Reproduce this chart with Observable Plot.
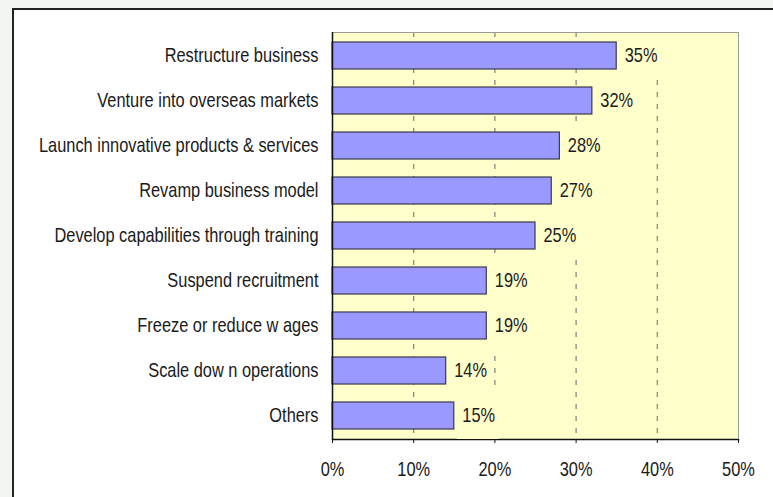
<!DOCTYPE html>
<html>
<head>
<meta charset="utf-8">
<script src="https://cdn.jsdelivr.net/npm/d3@7"></script>
<script src="https://cdn.jsdelivr.net/npm/@observablehq/plot@0.6"></script>
<style>
  html, body { margin: 0; padding: 0; width: 773px; height: 497px; overflow: hidden; background: #f2f6f2; }
  #frame { position: absolute; left: 12px; top: 8px; width: 780px; height: 520px; background: #ffffff;
           border-left: 2px solid #222; border-top: 2px solid #222; }
  #chart { position: absolute; left: 0; top: 0; }
</style>
</head>
<body>
<div id="frame"></div>
<div id="chart"></div>
<script>
const categories = [
  "Restructure business",
  "Venture into overseas markets",
  "Launch innovative products & services",
  "Revamp business model",
  "Develop capabilities through training",
  "Suspend recruitment",
  "Freeze or reduce w ages",
  "Scale dow n operations",
  "Others"
];
const values = [35, 32, 28, 27, 25, 19, 19, 14, 15];
const xTicks = [0, 10, 20, 30, 40, 50];
const gridTicks = [10, 20, 30, 40];

const data = categories.map((c, i) => ({label: c, value: values[i]}));
const font = "'Liberation Sans', Arial, sans-serif";
const plotBg = "#ffffcc";

const chart = Plot.plot({
  width: 773,
  height: 497,
  marginLeft: 332,
  marginRight: 35,
  marginTop: 32,
  marginBottom: 58,
  style: {fontFamily: font, fontSize: "20px", color: "#1a1a1a", background: "transparent", overflow: "visible"},
  x: {domain: [0, 50], label: null},
  y: {domain: categories, label: null, paddingInner: 0.4, paddingOuter: 0.2},
  marks: [
    Plot.frame({fill: plotBg, stroke: null}),
    Plot.ruleX(gridTicks, {stroke: "#808080", strokeWidth: 1.2, strokeDasharray: "5,7"}),
    Plot.frame({anchor: "bottom", stroke: "#111", strokeWidth: 1.5}),
    // data-label background boxes (filled like the plot area, hiding the grid behind labels)
    Plot.barX(data, {x1: "value", x2: "value", y: "label", fill: plotBg,
      insetLeft: 3, insetRight: -45, insetTop: -10, insetBottom: -10}),
    Plot.frame({anchor: "top", stroke: "#9a9a9a"}),
    Plot.frame({anchor: "right", stroke: "#9a9a9a"}),
    Plot.barX(data, {x: "value", y: "label", fill: "#9999ff", stroke: "#3a3a4a", strokeWidth: 1.2}),
    Plot.text(data, {x: "value", y: "label", text: d => d.value + "%", textAnchor: "start", dx: 8, fill: "#1a1a1a", fontSize: 20}),
    Plot.ruleX([0], {stroke: "#111", strokeWidth: 1.5}),
    Plot.axisX({ticks: xTicks, tickFormat: d => d + "%", tickSize: 4, tickPadding: 18, stroke: "#111", fill: "#1a1a1a", fontSize: 20}),
    Plot.axisY({tickSize: 0, tickPadding: 14, fill: "#1a1a1a", fontSize: 20})
  ]
});

// Narrow the glyphs horizontally (reference uses a condensed face), keeping each anchor point fixed.
const isNum = v => v != null && v !== "" && !isNaN(+v);
chart.querySelectorAll("text").forEach(t => {
  let tr = t.getAttribute("transform") || "";
  const xa = t.getAttribute("x"), ya = t.getAttribute("y");
  let tx = 0, ty = 0;
  if (isNum(xa)) { tx = +xa; t.removeAttribute("x"); }
  if (isNum(ya)) { ty = +ya; t.removeAttribute("y"); }
  t.setAttribute("transform", `${tr} translate(${tx},${ty}) scale(0.82,1)`.trim());
});
document.getElementById("chart").appendChild(chart);
</script>
</body>
</html>
